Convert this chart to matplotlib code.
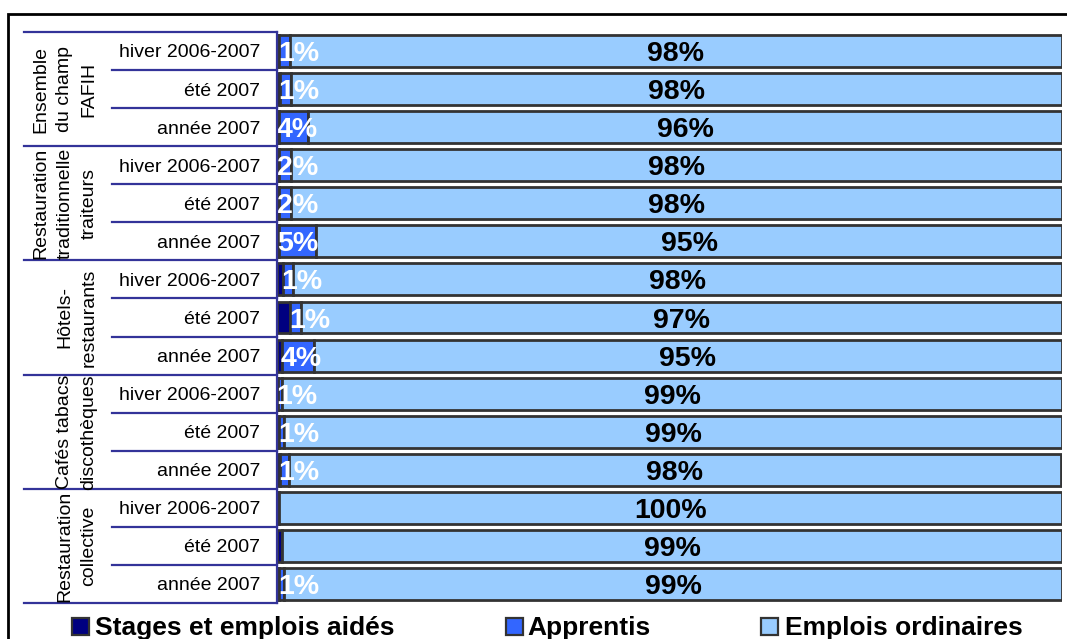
import matplotlib.pyplot as plt
import matplotlib.patches as patches

plt.rcParams['font.family'] = ['Liberation Sans', 'DejaVu Sans']

#%% data
groups = ['Ensemble\ndu champ\nFAFIH',
          'Restauration\ntraditionnelle\ntraiteurs',
          'Hôtels-\nrestaurants',
          'Cafés tabacs\ndiscothèques',
          'Restauration\ncollective']
periods = ['hiver 2006-2007', 'été 2007', 'année 2007']

series = ['Stages et emplois aidés', 'Apprentis', 'Emplois ordinaires']
colors = ['#000080', '#3366FF', '#99CCFF']

# one value per row, groups in order, periods in order (%)
stages = [0.3, 0.4, 0.2, 0.2, 0.2, 0.2, 0.8, 1.7, 0.7, 0.1, 0.3, 0.4, 0.0, 0.6, 0.3]
apprentis = [1.3, 1.4, 3.8, 1.6, 1.6, 4.8, 1.2, 1.4, 4.0, 0.6, 0.6, 1.1, 0.2, 0.1, 0.6]
ordinaires = [98.4, 98.2, 96.0, 98.2, 98.2, 95.0, 98.0, 96.9, 95.3, 99.3, 99.1, 98.4, 99.8, 99.3, 99.1]

#%% figure
W, H = 1067, 639
fig = plt.figure(figsize=(W / 100, H / 100), dpi=100)

def fx(px):
    return px / W

def fy(py):
    return 1 - py / H

top, bottom = 32, 603
nrows = len(stages)
rows = list(range(nrows))

# bars
ax = fig.add_axes([fx(277), fy(bottom), (1062 - 277) / W, (bottom - top) / H])
edge = '#333333'
lw = 2
ax.barh(rows, stages, height=0.84, color=colors[0], edgecolor=edge, linewidth=lw)
ax.barh(rows, apprentis, left=stages, height=0.84, color=colors[1], edgecolor=edge, linewidth=lw)
left2 = [s + a for s, a in zip(stages, apprentis)]
ax.barh(rows, ordinaires, left=left2, height=0.84, color=colors[2], edgecolor=edge, linewidth=lw)

size = 20.5
for i in rows:
    if round(apprentis[i]) >= 1:
        ax.text(stages[i] - 0.2, i + 0.08, '%d%%' % round(apprentis[i]), color='white',
                fontsize=size, fontweight='bold', ha='left', va='center')
    ax.text(left2[i] + ordinaires[i] / 2, i + 0.08, '%d%%' % round(ordinaires[i]), color='black',
            fontsize=size, fontweight='bold', ha='center', va='center')

ax.set_xlim(0, 100)
ax.set_ylim(nrows - 0.5, -0.5)
ax.axis('off')

# label table on the left (drawn over the bars area edge)
axl = fig.add_axes([fx(24), fy(bottom), (277 - 24) / W, (bottom - top) / H], zorder=3)
axl.set_xlim(24, 277)
axl.set_ylim(nrows - 0.5, -0.5)
axl.axis('off')
axl.patch.set_visible(True)
axl.set_facecolor('white')
lc = '#333399'
for g, name in enumerate(groups):
    y0 = g * 3 - 0.5
    axl.plot([24, 277], [y0, y0], color=lc, lw=1.6, clip_on=False)
    for k in (1, 2):
        axl.plot([112, 277], [y0 + k, y0 + k], color=lc, lw=1.6, clip_on=False)
    n = name.count('\n') + 1
    axl.text(89 - 12 * (n - 1), g * 3 + 1, name, rotation=90, ha='center', va='center',
             fontsize=14, linespacing=1.55)
    for k, p in enumerate(periods):
        axl.text(260, g * 3 + k + 0.05, p, ha='right', va='center', fontsize=14)
axl.plot([24, 277], [nrows - 0.5, nrows - 0.5], color=lc, lw=1.6, clip_on=False)
axl.plot([277, 277], [-0.5, nrows - 0.5], color=lc, lw=1.6, clip_on=False)

# legend
mx = [72, 506, 761]
tx = [95, 527, 785]
for j in range(3):
    fig.patches.append(patches.Rectangle((fx(mx[j]), fy(635)), 17 / W, 17 / H,
                                         transform=fig.transFigure, facecolor=colors[j],
                                         edgecolor=edge, linewidth=1.6))
    fig.text(fx(tx[j]), fy(635), series[j], fontsize=19, fontweight='bold',
             ha='left', va='baseline')

# outer frame
fig.patches.append(patches.Rectangle((fx(8), -0.1), 1.2, fy(14) + 0.1,
                                     transform=fig.transFigure, fill=False,
                                     edgecolor='black', linewidth=2))

fig.savefig('out.png', dpi=100)
